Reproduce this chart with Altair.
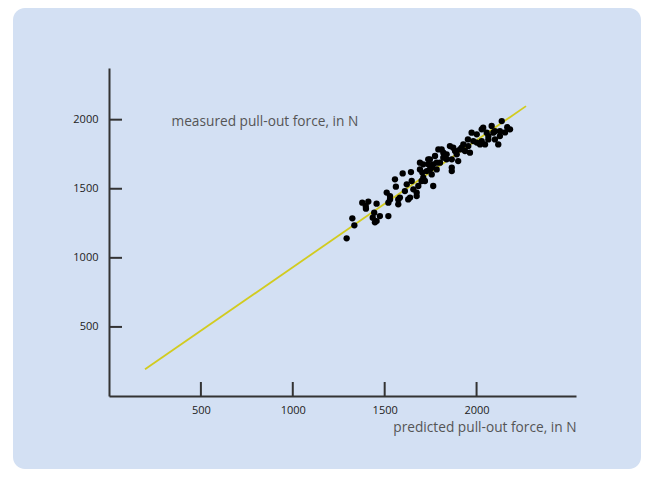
import altair as alt
import pandas as pd

# predicted vs measured pull-out force (N)
pred = [1293, 1324, 1335, 1378, 1411, 1397, 1456, 1443, 1435, 1456, 1474, 1520, 1447,
        1511, 1520, 1529, 1556, 1561, 1574, 1574, 1598, 1643, 1620, 1628, 1656, 1674,
        1683, 1692, 1705, 1719, 1746, 1764, 1737, 2137, 2167, 2118, 2082, 2055, 2028,
        2001, 1973, 1982, 2019, 2064, 1955, 1928, 1937, 1910, 1892, 1873, 1865, 1837,
        1810, 1819, 1801, 1774, 1764, 1746, 1756, 1729, 1710, 1701, 1865, 1783, 1900,
        2100, 2127, 1610, 1647, 1692, 1710, 1674, 1638, 1737, 1756, 1783, 1792, 1819,
        1837, 1865, 1855, 1883, 1919, 1529, 1583, 2127, 2036, 2064, 2001, 1964, 2028,
        2091, 1398, 2155, 2182, 2100, 2046, 1953]
meas = [1141, 1286, 1235, 1399, 1407, 1375, 1392, 1327, 1291, 1266, 1302, 1302, 1257,
        1472, 1399, 1447, 1568, 1515, 1423, 1387, 1611, 1621, 1532, 1423, 1496, 1447,
        1520, 1689, 1617, 1556, 1640, 1520, 1677, 1990, 1946, 1821, 1954, 1906, 1930,
        1894, 1906, 1845, 1821, 1857, 1809, 1821, 1773, 1785, 1749, 1797, 1713, 1749,
        1785, 1725, 1689, 1737, 1677, 1713, 1604, 1628, 1677, 1556, 1628, 1640, 1700,
        1917, 1881, 1483, 1556, 1640, 1580, 1472, 1436, 1713, 1653, 1689, 1785, 1761,
        1713, 1653, 1809, 1773, 1797, 1423, 1436, 1917, 1942, 1881, 1834, 1761, 1845,
        1906, 1356, 1908, 1930, 1857, 1821, 1857]

# fitted line end points
line_pred = [196, 2269]
line_meas = [193, 2098]

x_ticks = [500, 1000, 1500, 2000]
y_ticks = [500, 1000, 1500, 2000]

x_title = "predicted pull-out force, in N"
y_title = "measured pull-out force, in N"

W, H = 467, 328
FONT = "Open Sans"

pts = pd.DataFrame({"pred": pred, "meas": meas})
ln = pd.DataFrame({"pred": line_pred, "meas": line_meas})
xt = pd.DataFrame({"t": x_ticks})
yt = pd.DataFrame({"t": y_ticks})

xs = alt.Scale(domain=[0, 2541], nice=False, zero=False)
ys = alt.Scale(domain=[0, 2374], nice=False, zero=False)

panel = alt.Chart(pd.DataFrame({"a": [0]})).mark_rect(
    color="#d3e0f3", cornerRadius=12
).encode(
    x=alt.value(-96), x2=alt.value(532), y=alt.value(-60), y2=alt.value(401)
)

fit = alt.Chart(ln).mark_line(color="#d2cb1f", strokeWidth=1.8).encode(
    x=alt.X("pred:Q", scale=xs,
            axis=alt.Axis(values=x_ticks, format="d", ticks=False, grid=False, domain=True,
                          domainColor="#333333", domainWidth=2, labelColor="#222222",
                          labelFont=FONT, labelFontSize=11, labelPadding=8,
                          labelBaseline="top",
                          title=x_title, titleFont=FONT, titleFontSize=13.7,
                          titleFontWeight="normal", titleColor="#555555",
                          titleX=W, titleY=31, titleAlign="right",
                          titleBaseline="middle", zindex=1)),
    y=alt.Y("meas:Q", scale=ys,
            axis=alt.Axis(values=y_ticks, format="d", ticks=False, grid=False, domain=True,
                          domainColor="#333333", domainWidth=2, labelColor="#222222",
                          labelFont=FONT, labelFontSize=11, labelPadding=11,
                          title=y_title, titleFont=FONT, titleFontSize=13.7,
                          titleFontWeight="normal", titleColor="#555555",
                          titleAngle=0, titleX=62, titleY=53, titleAlign="left",
                          titleBaseline="middle", zindex=1)),
)

xtick = alt.Chart(xt).mark_rule(color="#333333", strokeWidth=2).encode(
    x=alt.X("t:Q", scale=xs), y=alt.value(H), y2=alt.value(H - 14)
)
ytick = alt.Chart(yt).mark_rule(color="#333333", strokeWidth=2).encode(
    y=alt.Y("t:Q", scale=ys), x=alt.value(0), x2=alt.value(13)
)

dots = alt.Chart(pts).mark_circle(color="black", size=40, opacity=1).encode(
    x=alt.X("pred:Q", scale=xs),
    y=alt.Y("meas:Q", scale=ys),
)

chart = alt.layer(panel, fit, xtick, ytick, dots).properties(
    width=W, height=H,
    autosize=alt.AutoSizeParams(type="none"),
    padding={"left": 101, "top": 60, "right": 65, "bottom": 73},
    background="white",
).configure_view(stroke=None)

chart.save("out.html", embed_options={"renderer": "svg", "actions": False})
